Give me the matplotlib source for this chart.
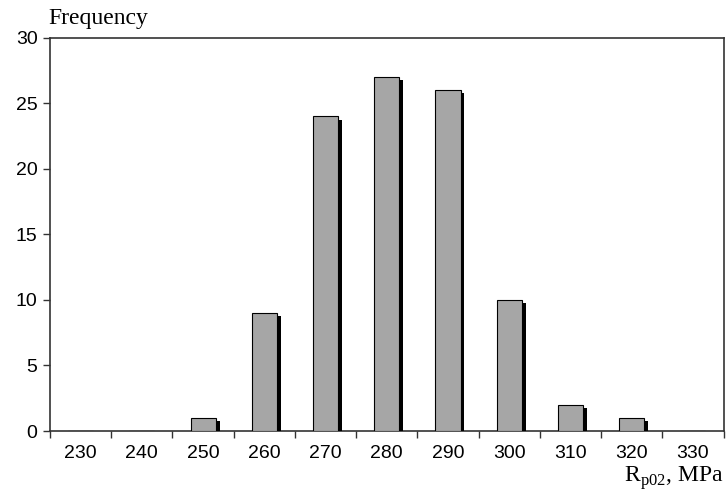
import matplotlib
matplotlib.use("Agg")
import matplotlib.pyplot as plt
import matplotlib.patheffects as pe
import numpy as np

categories = ["230", "240", "250", "260", "270", "280", "290", "300", "310", "320", "330"]
frequency = [0, 0, 1, 9, 24, 27, 26, 10, 2, 1, 0]
y_ticks = [0, 5, 10, 15, 20, 25, 30]

fig = plt.figure(figsize=(7.27, 4.93), dpi=100)
ax = fig.add_axes([50/727, (493-431)/493, (723.5-50)/727, (431-37.7)/493])

x = np.arange(len(categories))
bars = ax.bar(x, frequency, width=0.41, color="#a6a6a6", edgecolor="black", linewidth=0.8,
              zorder=3)
for b in bars:
    b.set_path_effects([pe.SimplePatchShadow(offset=(2.8, -2.4), shadow_rgbFace="black", alpha=1.0),
                        pe.Normal()])

ax.set_xlim(-0.5, len(categories) - 0.5)
ax.set_ylim(0, 30)
ax.set_yticks(y_ticks)
ax.set_yticklabels([str(v) for v in y_ticks], fontfamily="Liberation Sans", fontsize=14)

ax.set_xticks(np.arange(len(categories) + 1) - 0.5)
ax.set_xticklabels([])
ax.set_xticks(x, minor=True)
ax.set_xticklabels(categories, minor=True, fontfamily="Liberation Sans", fontsize=14)
ax.tick_params(axis="x", which="minor", length=0, pad=10)
ax.tick_params(axis="x", which="major", length=5, width=1, direction="out", color="#333333")
ax.tick_params(axis="y", length=5, width=1, direction="out", color="#333333", pad=4)

for s in ax.spines.values():
    s.set_linewidth(1.2)
    s.set_color("#333333")

fig.text(48/727, 1 - 24/493, "Frequency", fontfamily="Liberation Serif", fontsize=17,
         ha="left", va="baseline")
fig.text(724/727, 1 - 482/493, r"R$_{\mathregular{p02}}$, MPa", fontfamily="Liberation Serif",
         fontsize=17, ha="right", va="baseline")

fig.savefig("out.png", dpi=100)
